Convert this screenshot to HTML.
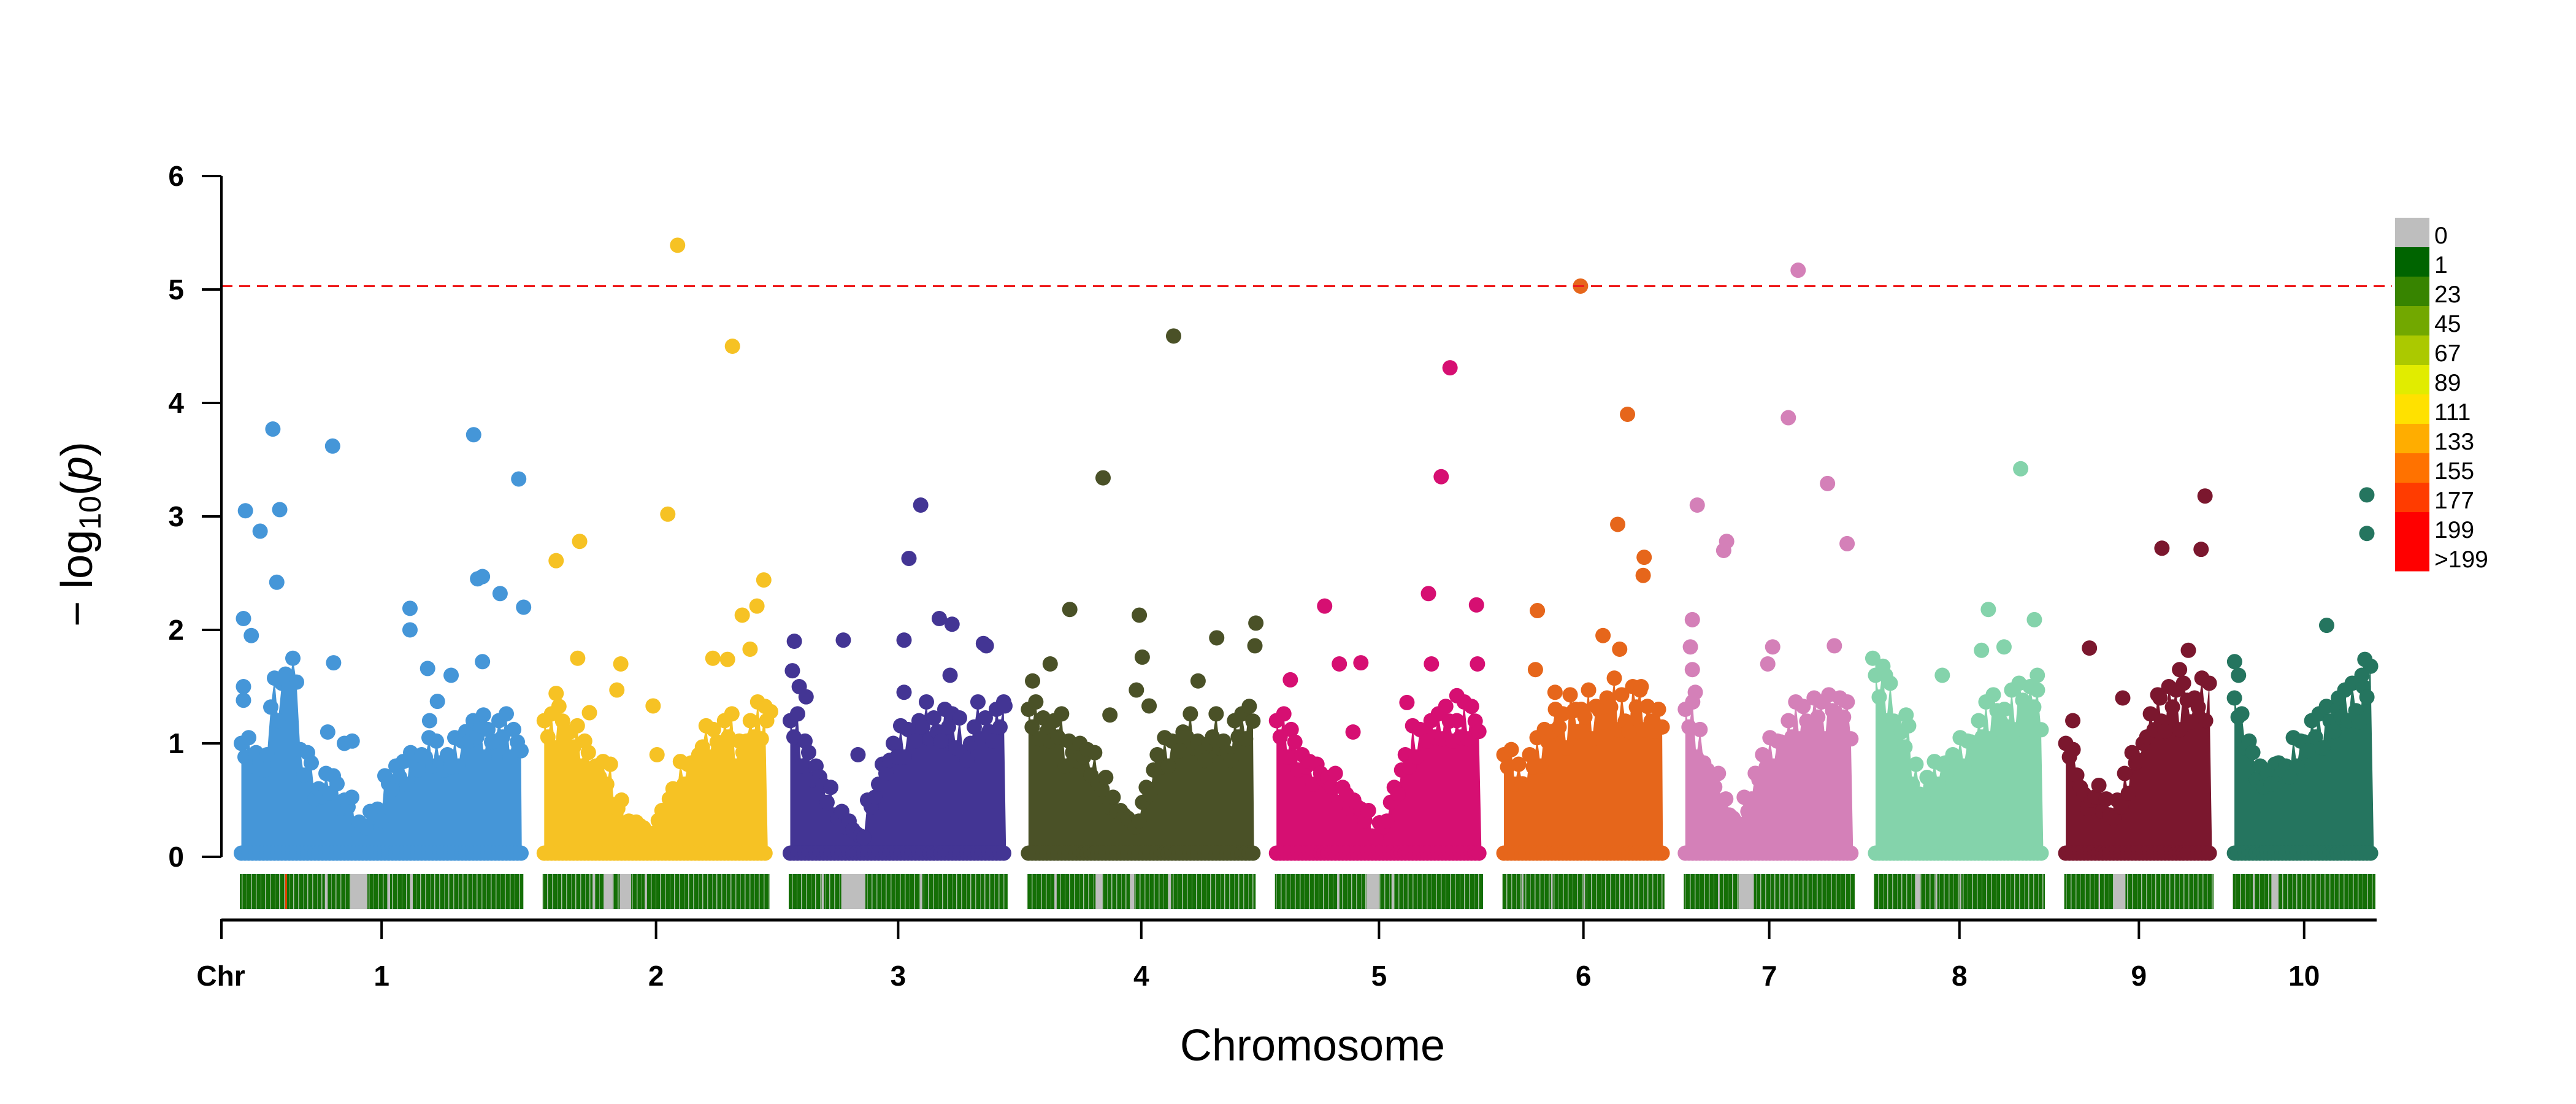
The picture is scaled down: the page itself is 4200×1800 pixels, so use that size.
<!DOCTYPE html>
<html><head><meta charset="utf-8"><style>
html,body{margin:0;padding:0;background:#fff;}
svg{display:block;}
</style></head><body>
<svg id="chart" width="4200" height="1800" viewBox="0 0 4200 1800" xmlns="http://www.w3.org/2000/svg" font-family="Liberation Sans, sans-serif">
<defs>
<pattern id="stripTex" patternUnits="userSpaceOnUse" width="23" height="57">
<rect x="0" y="0" width="23" height="57" fill="#146f06"/>
<rect x="3" y="0" width="1.5" height="57" fill="#8fb58a"/>
<rect x="11" y="0" width="1" height="57" fill="#6f9f68"/>
<rect x="18" y="0" width="1.5" height="57" fill="#a9c2a5"/>
</pattern>
</defs>
<rect x="0" y="0" width="4200" height="1800" fill="#fff"/>
<g id="strips"></g>
<g id="bulk"></g>
<g id="points"></g>
<g id="axes"></g>
<g id="legend"></g>
<text x="2140" y="1729" font-size="72" text-anchor="middle">Chromosome</text>
<text transform="translate(150,871) rotate(-90)" font-size="72" text-anchor="middle">− log<tspan font-size="50" dy="14">10</tspan><tspan dy="-14">(</tspan><tspan font-style="italic">p</tspan>)</text>
</svg>
<script>
const chrNames = ["1","2","3","4","5","6","7","8","9","10"];
const chrLen = [302,244,236,246,225,178,187,187,165,158];
const chrColors = ["#4596d8","#f6c224","#433594","#4a5127","#d60f72","#e6661b","#d480b8","#84d3ab","#7b172e","#25755f"];
const yTicks = [0,1,2,3,4,5,6];
const threshold = 5.03;
const pos1 = [12,27,40,47,44,10,18,101,102,245,249,254,272,291,296,180,180,254,198,222,10,10,96,113,121,200,208,255];
const val1 = [3.05,2.87,3.77,3.06,2.42,2.1,1.95,3.62,1.71,3.72,2.45,2.47,2.32,3.33,2.2,2.19,2.0,1.72,1.66,1.6,1.5,1.38,1.1,1.0,1.02,1.2,1.37,1.25];
const pos2 = [144,200,134,20,44,232,225,210,42,86,82,119,180,195,218,239,235,20,54,123];
const val2 = [5.39,4.5,3.02,2.61,2.78,2.44,2.21,2.13,1.75,1.7,1.47,1.33,1.75,1.74,1.83,1.28,1.2,1.44,1.27,0.9];
const pos3 = [12,62,129,141,124,160,173,205,208,10,17,24,124,171,227,77];
const val3 = [1.9,1.91,2.63,3.1,1.91,2.1,2.05,1.88,1.86,1.64,1.5,1.41,1.45,1.6,1.33,0.9];
const pos4 = [84,156,50,121,200,240,239,124,12,30,118,181,91,131];
const val4 = [3.34,4.59,2.18,2.13,1.93,2.06,1.86,1.76,1.55,1.7,1.47,1.55,1.25,1.33];
const pos5 = [185,176,163,212,57,22,72,94,166,213,141,192,86];
const val5 = [4.31,3.35,2.32,2.22,2.21,1.56,1.7,1.71,1.7,1.7,1.36,1.42,1.1];
const pos6 = [86,134,124,151,150,42,109,126,40,60,148,81];
const val6 = [5.03,3.9,2.93,2.64,2.48,2.17,1.95,1.83,1.65,1.45,1.5,1.3];
const pos7 = [123,113,153,20,50,47,173,15,13,97,160,15,92,18];
const val7 = [5.17,3.87,3.29,3.1,2.78,2.7,2.76,2.09,1.85,1.85,1.86,1.65,1.7,1.45];
const pos8 = [156,123,170,5,18,76,139,116,173,39];
const val8 = [3.42,2.18,2.09,1.75,1.6,1.6,1.85,1.82,1.6,1.25];
const pos9 = [150,106,146,32,133,124,66,104,15];
const val9 = [3.18,2.72,2.71,1.84,1.82,1.65,1.4,1.4,1.2];
const pos10 = [143,143,102,141,8,12,138,114];
const val10 = [3.19,2.85,2.04,1.74,1.72,1.6,1.6,1.4];
const env1 = [1.0,0.9,1.5,1.75,0.9,0.6,0.7,0.5,0.3,0.4,0.7,0.8,0.9,1.0,0.9,1.0,1.2,1.1,1.2,1.1];
const env2 = [1.2,1.3,1.1,1.0,0.8,0.8,0.5,0.3,0.3,0.2,0.4,0.6,0.8,0.9,1.1,1.1,1.2,1.0,1.2,1.3];
const env3 = [1.2,1.0,0.8,0.6,0.4,0.3,0.2,0.5,0.8,1.0,1.1,1.2,1.3,1.2,1.3,1.2,1.0,1.3,1.2,1.3];
const env4 = [1.3,1.2,1.2,1.0,1.0,0.9,0.7,0.5,0.4,0.3,0.6,0.9,1.0,1.1,1.2,1.0,1.2,1.0,1.2,1.3];
const env5 = [1.2,1.1,0.9,0.8,0.8,0.7,0.6,0.5,0.4,0.2,0.3,0.6,0.9,1.1,1.2,1.2,1.3,1.2,1.3,1.3];
const env6 = [0.9,0.8,0.7,0.9,1.0,1.1,1.3,1.2,1.4,1.3,1.4,1.3,1.4,1.5,1.4,1.3,1.5,1.4,1.3,1.3];
const env7 = [1.3,1.1,0.9,0.7,0.5,0.4,0.3,0.5,0.8,0.9,1.0,1.1,1.2,1.3,1.3,1.4,1.3,1.4,1.4,1.3];
const env8 = [1.6,1.5,1.3,1.1,0.8,0.6,0.7,0.8,0.9,0.9,1.0,1.1,1.2,1.3,1.4,1.3,1.4,1.5,1.5,1.4];
const env9 = [1.0,0.9,0.6,0.5,0.6,0.5,0.4,0.5,0.7,0.9,1.0,1.2,1.4,1.3,1.5,1.4,1.5,1.4,1.5,1.5];
const env10 = [1.4,1.2,1.0,0.8,0.7,0.8,0.9,0.8,1.0,1.0,1.1,1.2,1.2,1.3,1.3,1.4,1.5,1.4,1.5,1.6];
const gap1 = [[0.39,0.45],[0.30,0.31],[0.52,0.53],[0.6,0.61]];
const gap2 = [[0.27,0.31],[0.34,0.39],[0.45,0.46],[0.22,0.23]];
const gap3 = [[0.24,0.35],[0.15,0.16],[0.6,0.61]];
const gap4 = [[0.3,0.33],[0.45,0.47],[0.62,0.63],[0.12,0.13]];
const gap5 = [[0.44,0.5],[0.3,0.31],[0.56,0.57]];
const gap6 = [[0.12,0.13],[0.3,0.31],[0.5,0.51]];
const gap7 = [[0.32,0.41],[0.2,0.21]];
const gap8 = [[0.24,0.27],[0.36,0.37],[0.5,0.51]];
const gap9 = [[0.33,0.41],[0.23,0.24]];
const gap10 = [[0.27,0.32],[0.14,0.15]];
const legendLabels = ["0","1","23","45","67","89","111","133","155","177","199",">199"];
const legendColors = ["#bebebe","#006400","#378400","#72a800","#abc900","#e1ec00","#ffe100","#ffad00","#ff7200","#ff3c00","#ff0000","#ff0000"];

const allPos=[pos1,pos2,pos3,pos4,pos5,pos6,pos7,pos8,pos9,pos10];
const allVal=[val1,val2,val3,val4,val5,val6,val7,val8,val9,val10];
const allEnv=[env1,env2,env3,env4,env5,env6,env7,env8,env9,env10];
const allGap=[gap1,gap2,gap3,gap4,gap5,gap6,gap7,gap8,gap9,gap10];

const NS="http://www.w3.org/2000/svg";
const X0=381, PXMB=1.597, GAP=11.5, Y0=1397, YU=185, R=12.5;
const chrStart=[]; {let c=X0; for(let i=0;i<chrLen.length;i++){chrStart.push(c); c+=chrLen[i]*PXMB+GAP;}}
function xScale(ci,mb){return chrStart[ci]+mb*PXMB;}
function yScale(v){return Y0-v*YU;}
function mk(tag,attrs,parent){const e=document.createElementNS(NS,tag);for(const k in attrs)e.setAttribute(k,attrs[k]);parent.appendChild(e);return e;}

const gStrip=document.getElementById('strips');
const gBulk=document.getElementById('bulk');
const gPts=document.getElementById('points');
const gAx=document.getElementById('axes');
const gLeg=document.getElementById('legend');

for(let i=0;i<chrLen.length;i++){
  const xs=xScale(i,0)+10, xe=xScale(i,chrLen[i])-10, w=xe-xs;
  const s=mk('rect',{x:xs,y:1425,width:w,height:57,fill:'url(#stripTex)'},gStrip);
  
  
  allGap[i].forEach(g=>{
    const gr=mk('rect',{x:xs+g[0]*w,y:1425,width:Math.max(2,(g[1]-g[0])*w),height:57,fill:'#bebebe'},gStrip);
    
    
  });
  if(i===0){
    const red=mk('rect',{x:xs+0.16*w,y:1425,width:3,height:57,fill:'#e04000'},gStrip);
    
    
  }
  const env=allEnv[i], col=chrColors[i];
  const a=xScale(i,0)+R, b=xScale(i,chrLen[i])-R;
  const n=env.length, step=6;
  const tops=[];
  let j=0;
  for(let x=a;x<=b+0.1;x+=step,j++){
    const k=Math.max(0,Math.min(n-1,Math.floor((x-a)/(b-a)*n)));
    const jag=[0,-0.12,0.05,-0.2,0.02,-0.08,-0.15][j%7];
    tops.push([x,Math.max(0.03,env[k]+jag*env[k])]);
  }
  let d='M'+a+','+(Y0-4);
  tops.forEach(p=>{d+=' L'+p[0]+','+yScale(p[1]);});
  d+=' L'+b+','+(Y0-4)+' Z';
  const body=mk('path',{d:d,fill:col},gBulk);
  
  
  tops.forEach(p=>{
    mk('circle',{cx:p[0],cy:yScale(p[1]),r:R,fill:col},gBulk);
    mk('circle',{cx:p[0],cy:Y0-6,r:R,fill:col},gBulk);
  });
  const P=allPos[i], V=allVal[i];
  for(let q=0;q<P.length;q++){
    const c=mk('circle',{cx:xScale(i,P[q]),cy:yScale(V[q]),r:R,fill:col},gPts);
    
    
  }
}

const th=mk('line',{x1:361,x2:3900,y1:yScale(threshold),y2:yScale(threshold),stroke:'#ee1c1c','stroke-width':3,'stroke-dasharray':'18 11'},gAx);



const ya=mk('line',{x1:361,x2:361,y1:yScale(6),y2:yScale(0),stroke:'#000','stroke-width':4},gAx);


yTicks.forEach(t=>{
  mk('line',{x1:329,x2:361,y1:yScale(t),y2:yScale(t),stroke:'#000','stroke-width':4},gAx);
  const tx=mk('text',{x:300,y:yScale(t)+16,'font-size':46,'font-weight':'bold','text-anchor':'end'},gAx);
  tx.textContent=t;
  
  
});

const xEnd=xScale(chrLen.length-1,chrLen[chrLen.length-1])-8;
const xa=mk('line',{x1:361,x2:xEnd,y1:1500,y2:1500,stroke:'#000','stroke-width':5},gAx);


mk('line',{x1:361,x2:361,y1:1498,y2:1531,stroke:'#000','stroke-width':4},gAx);
const chrT=mk('text',{x:360,y:1607,'font-size':46,'font-weight':'bold','text-anchor':'middle'},gAx);
chrT.textContent='Chr';


for(let i=0;i<chrLen.length;i++){
  const cx=xScale(i,chrLen[i]/2);
  mk('line',{x1:cx,x2:cx,y1:1498,y2:1531,stroke:'#000','stroke-width':4},gAx);
  const tx=mk('text',{x:cx,y:1607,'font-size':46,'font-weight':'bold','text-anchor':'middle'},gAx);
  tx.textContent=chrNames[i];
  
  
}

const LX=3905, LY=355, LH=48;
for(let k=0;k<legendLabels.length;k++){
  const r=mk('rect',{x:LX,y:LY+k*LH,width:56,height:LH+0.5,fill:legendColors[k]},gLeg);
  
  
  const t=mk('text',{x:3969,y:LY+k*LH+42,'font-size':39},gLeg);
  t.textContent=legendLabels[k];
  
  
}
</script>
</body></html>
